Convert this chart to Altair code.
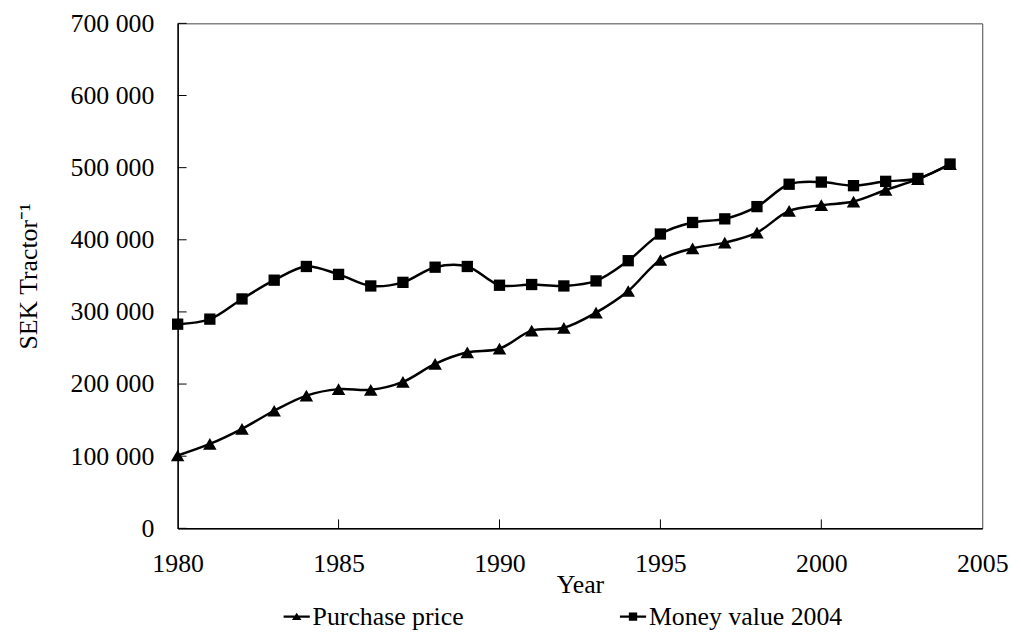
import altair as alt
import pandas as pd

# ---- data ----
years = list(range(1980, 2005))
purchase_price = [101000, 117000, 138000, 163000, 184000, 193000, 192000, 203000, 228000, 244000,
                  249000, 274000, 278000, 299000, 329000, 372000, 388000, 396000, 410000, 440000,
                  448000, 453000, 469000, 484000, 505000]
money_value_2004 = [283000, 290000, 318000, 344000, 363000, 352000, 336000, 341000, 362000, 363000,
                    337000, 338000, 336000, 343000, 371000, 408000, 424000, 429000, 446000, 477000,
                    480000, 475000, 481000, 485000, 505000]
series_names = ["Purchase price", "Money value 2004"]
x_tick_labels = [1980, 1985, 1990, 1995, 2000, 2005]
x_inner_ticks = [1985, 1990, 1995, 2000]
y_tick_labels = [0, 100000, 200000, 300000, 400000, 500000, 600000, 700000]

FONT = "Liberation Serif"
FS = 26
W, H = 811, 509
X0, X1 = 1980, 2005
Y1 = 700000
TICK_PX = 9

rows = []
for s, vals in zip(series_names, [purchase_price, money_value_2004]):
    for yr, v in zip(years, vals):
        rows.append({"year": yr, "value": v, "series": s, "lseries": s})
df = pd.DataFrame(rows)

ytick_df = pd.DataFrame({"v": y_tick_labels})
ytick_df["a"] = X0
ytick_df["b"] = X0 + TICK_PX * (X1 - X0) / W
xtick_df = pd.DataFrame({"t": x_inner_ticks})
xtick_df["a"] = 0
xtick_df["b"] = TICK_PX * Y1 / H

xs = alt.Scale(domain=[X0, X1], nice=False, zero=False)
ys = alt.Scale(domain=[0, Y1], nice=False)

common = dict(ticks=False, tickSize=0, grid=False, domainColor="black", domainWidth=1.5,
              labelFont=FONT, labelFontSize=FS, labelColor="black", labelFlush=False,
              labelOverlap=False, titleFont=FONT, titleFontSize=FS, titleColor="black",
              titleFontWeight="normal")

x_axis = alt.Axis(values=x_tick_labels, format="d", title="Year", labelPadding=23,
                  titleY=57, titleBaseline="middle", **common)
y_axis = alt.Axis(values=y_tick_labels, title="SEK Tractor\u207b\u00b9", labelPadding=24,
                  labelExpr="datum.value == 0 ? '0' : format(datum.value / 1000, 'd') + ' 000'",
                  titleX=-150, titleY=H / 2, titleBaseline="middle", titleAngle=270, **common)

def X(field):
    return alt.X(field, scale=xs, axis=x_axis, title="Year")

def Y(field):
    return alt.Y(field, scale=ys, axis=y_axis, title="SEK Tractor\u207b\u00b9")

lines = alt.Chart(df).mark_line(color="black", strokeWidth=2.5, interpolate="catmull-rom").encode(
    x=X("year:Q"), y=Y("value:Q"), detail="series:N"
)

points = alt.Chart(df).mark_point(filled=True, color="black", opacity=1).encode(
    x=X("year:Q"), y=Y("value:Q"),
    shape=alt.Shape("series:N", scale=alt.Scale(domain=series_names, range=["triangle-up", "square"]), legend=None),
    size=alt.Size("series:N", scale=alt.Scale(domain=series_names, range=[185, 130]), legend=None),
)

legend_paths = [
    "M-2.2,-0.2L2.2,-0.2L2.2,0.2L-2.2,0.2ZM0,-0.65L0.8,0.55L-0.8,0.55Z",
    "M-2.2,-0.2L2.2,-0.2L2.2,0.2L-2.2,0.2ZM-0.7,-0.7L0.7,-0.7L0.7,0.7L-0.7,0.7Z",
]
legend_layer = alt.Chart(df).transform_filter("datum.year < 0").mark_point(
    filled=True, color="black", opacity=1
).encode(
    x=X("year:Q"), y=Y("value:Q"),
    shape=alt.Shape("lseries:N", scale=alt.Scale(domain=series_names, range=legend_paths),
                    legend=alt.Legend(title=None, orient="none", legendX=107, legendY=585,
                                      direction="horizontal", columnPadding=156,
                                      labelFont=FONT, labelFontSize=FS, labelColor="black",
                                      labelLimit=0, labelOffset=3, symbolSize=144,
                                      symbolFillColor="black", symbolStrokeWidth=0)),
)

yticks = alt.Chart(ytick_df).mark_rule(color="black", strokeWidth=1).encode(
    x=X("a:Q"), x2="b:Q", y=Y("v:Q")
)
xticks = alt.Chart(xtick_df).mark_rule(color="black", strokeWidth=1).encode(
    x=X("t:Q"), y=Y("a:Q"), y2="b:Q"
)

chart = alt.layer(yticks, xticks, lines, points, legend_layer).resolve_scale(
    shape="independent", size="independent"
).properties(
    width=W, height=H,
    padding={"left": 171, "top": 13, "right": 31, "bottom": 102},
    autosize=alt.AutoSizeParams(type="none"),
    background="white",
).configure_view(stroke="#444", strokeWidth=1)

chart.save("out.html", embed_options={"renderer": "svg", "actions": False})
